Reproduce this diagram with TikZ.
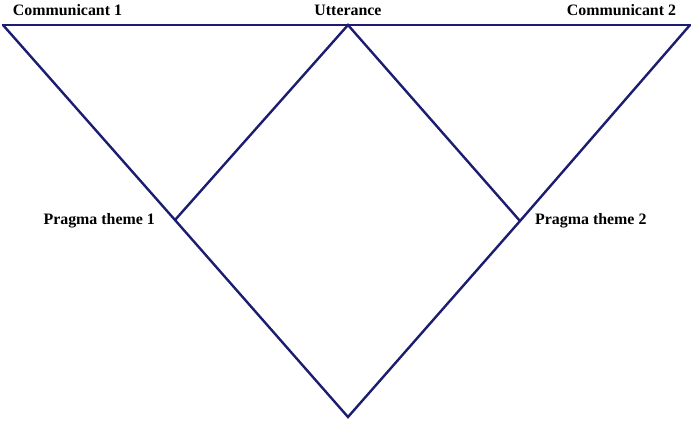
\documentclass[tikz,border=0pt]{standalone}
\usepackage{fontspec}
\setmainfont{Liberation Serif}
\definecolor{navy}{RGB}{28,28,112}
\begin{document}
\begin{tikzpicture}[x=1pt,y=-1pt,
  edge/.style={draw=navy,line width=2.4pt,line join=miter,line cap=round},
  lbl/.style={font=\fontsize{15.9}{18}\selectfont\bfseries,text=black,inner sep=0pt}]
\useasboundingbox (0,0) rectangle (693,421);
\coordinate (c1) at (3,25);
\coordinate (u) at (348,25);
\coordinate (c2) at (690,25);
\coordinate (p1) at (175,220);
\coordinate (p2) at (520,221);
\coordinate (b) at (348,417);
\draw[edge] (c1) -- (c2);
\draw[edge] (c1) -- (p1) -- (b) -- (p2) -- (c2);
\draw[edge] (p1) -- (u) -- (p2);
\node[lbl,anchor=base] (t1) at (67.5,15) {Communicant 1};
\node[lbl,anchor=base] (t2) at (348,15) {Utterance};
\node[lbl,anchor=base] (t3) at (621.5,15) {Communicant 2};
\node[lbl,anchor=base east] (t4) at (155,224) {Pragma theme 1};
\node[lbl,anchor=base west] (t5) at (535,224) {Pragma theme 2};
\end{tikzpicture}
\end{document}
